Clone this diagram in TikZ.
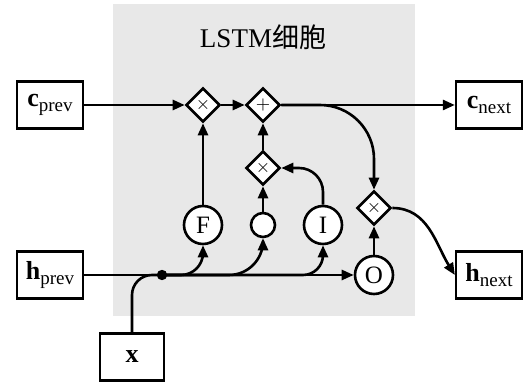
\documentclass[tikz,border=0pt]{standalone}
\usepackage{fontspec}
\setmainfont{Liberation Serif}
\newfontfamily\cjk{Noto Sans CJK SC}
\usetikzlibrary{positioning,arrows.meta,shapes.geometric}
\definecolor{cellbg}{RGB}{232,232,232}
\newcommand{\vsub}[2]{{\fontsize{13}{15}\selectfont\textbf{#1}}\raisebox{-0.5ex}{\fontsize{9.5}{11}\selectfont #2}}

\begin{document}
\begin{tikzpicture}[x=0.5pt,y=-0.5pt,on grid,>={Triangle[length=6pt,width=5pt]},line width=1.3pt,
    box/.style={draw,line width=1.15pt,fill=white,minimum width=33pt,minimum height=23.5pt,inner sep=0pt},
    op/.style={draw,diamond,fill=white,minimum size=17pt,inner sep=0pt,font=\small},
    gate/.style={draw,circle,fill=white,minimum size=19pt,inner sep=0pt,font=\fontsize{12.5}{14}\selectfont}]
    \useasboundingbox (0,0) rectangle (524,383);
    \fill[cellbg] (113,4) rectangle (415,316);
    \node[font=\fontsize{13.5}{16}\selectfont] (title) at (263,37) {LSTM{\cjk 细胞}};

    \node[box] (cprev) at (50,105) {\vsub{c}{prev}};
    \node[op,right=76.5pt of cprev] (mulf) {$\times$};
    \node[op,right=30pt of mulf] (addc) {$+$};
    \node[box,right=113pt of addc] (cnext) {\vsub{c}{next}};
    \node[op,below=31.5pt of addc] (muli) {$\times$};
    \node[gate,below=60pt of mulf] (gf) {F};
    \node[gate,below=60pt of addc,minimum size=12pt] (gg) {};
    \node[gate,right=30pt of gg] (gi) {I};
    \node[op,below right=20pt and 55.5pt of muli] (mulo) {$\times$};
    \node[gate,below=33.5pt of mulo] (go) {O};
    \node[box,below=85pt of cprev] (hprev) {\vsub{h}{prev}};
    \node[box,below=85pt of cnext] (hnext) {\vsub{h}{next}};
    \node[box,minimum width=32pt,below right=41pt and 41pt of hprev,font=\fontsize{13}{15}\selectfont] (xin) {\textbf{x}};
    \coordinate[right=56pt of hprev] (split);

    \draw[->] (cprev) -- (mulf);
    \draw[->] (mulf) -- (addc);
    \draw[->] (addc) -- (cnext);
    \draw[->,rounded corners=27pt] (addc.east) -| (mulo.north);
    \draw[->] (gf) -- (mulf);
    \draw[->] (gg) -- (muli);
    \draw[->] (muli) -- (addc);
    \draw[->,rounded corners=12pt] (gi.north) |- (muli.east);
    \draw[->] (go) -- (mulo);
    \draw[->] (mulo.east) to[out=0,in=122] (hnext.west);

    \draw[->] (hprev) -- (go);
    \draw[rounded corners=10pt] (xin.north) |- (split);
    \draw[->,rounded corners=11pt] (split) -| (gf.south);
    \draw[->,rounded corners=17pt] (split) -| (gg.south);
    \draw[->,rounded corners=10pt] (split) -| (gi.south);
    \fill (split) circle (2.6pt);
\end{tikzpicture}
\end{document}
